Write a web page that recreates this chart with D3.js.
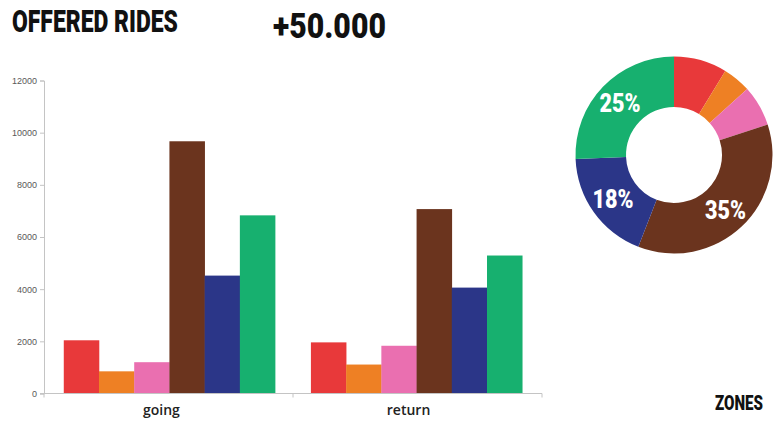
<!DOCTYPE html>
<html>
<head>
<meta charset="utf-8">
<script src="https://cdn.jsdelivr.net/npm/d3@7"></script>
<style>
  html, body { margin: 0; padding: 0; background: #ffffff; }
  svg { display: block; }
</style>
</head>
<body>
<svg id="chart" width="773" height="421"></svg>
<script>
// Ride counts per zone, for the outbound and return legs
const groups = ["going", "return"];
const zones = ["Zone 1", "Zone 2", "Zone 3", "Zone 4", "Zone 5", "Zone 6"];
const going = [2040, 850, 1200, 9670, 4520, 6830];
const returning = [1960, 1110, 1830, 7070, 4060, 5290];
const zoneColors = ["#e8393a", "#ee8024", "#ea6fb0", "#6b341e", "#2b3688", "#17b06f"];
const yTicks = [0, 2000, 4000, 6000, 8000, 10000, 12000];

// Share of rides per zone (percent) for the donut
const zoneShare = [8.5, 4.5, 6.5, 35, 18, 25];
const shareLabelShown = [false, false, false, true, true, true];

const svg = d3.select("#chart");
const condensed = "Roboto, 'Liberation Sans', sans-serif";

// Heavy condensed heading text: drawn at natural width, then squeezed horizontally
function heading(x, y, size, width, str) {
  const g = svg.append("g");
  const t = g.append("text")
    .attr("x", 0).attr("y", 0)
    .attr("font-family", condensed)
    .attr("font-weight", 900)
    .attr("font-size", size)
    .attr("fill", "#111")
    .text(str);
  const natural = t.node().getComputedTextLength();
  g.attr("transform", `translate(${x},${y}) scale(${width / natural},1)`);
  return g;
}
heading(12, 32, 31, 166, "OFFERED RIDES");
heading(273, 37.5, 34.5, 113, "+50.000");
heading(715, 409.5, 21, 48, "ZONES");

// ---- Grouped bar chart ----
const plot = { left: 44, right: 542, top: 80.5, bottom: 393.5 };

const x0 = d3.scaleBand()
  .domain(groups)
  .range([plot.left, plot.right])
  .paddingInner(0.145)
  .paddingOuter(0.08);

const x1 = d3.scaleBand()
  .domain(zones)
  .range([0, x0.bandwidth()]);

const y = d3.scaleLinear()
  .domain([0, 12000])
  .range([plot.bottom, plot.top]);

const table = groups.map((g, i) => ({
  group: g,
  values: (i === 0 ? going : returning).map((v, j) => ({ zone: zones[j], value: v, color: zoneColors[j] }))
}));

const bars = svg.append("g");
bars.selectAll("g")
  .data(table)
  .join("g")
  .attr("transform", d => `translate(${x0(d.group)},0)`)
  .selectAll("rect")
  .data(d => d.values)
  .join("rect")
  .attr("x", d => x1(d.zone))
  .attr("width", x1.bandwidth() + 0.3)
  .attr("y", d => y(d.value))
  .attr("height", d => y(0) - y(d.value))
  .attr("fill", d => d.color);

// Y axis
const yAxis = svg.append("g")
  .attr("transform", `translate(${plot.left},0)`)
  .call(d3.axisLeft(y).tickValues(yTicks).tickSize(4).tickPadding(3).tickFormat(d3.format("d")));
yAxis.select(".domain").attr("stroke", "#c4c4c4");
yAxis.selectAll(".tick line").attr("stroke", "#c4c4c4");
yAxis.selectAll(".tick text")
  .attr("font-family", "'Liberation Sans', Arial, sans-serif")
  .attr("font-size", 9)
  .attr("fill", "#595959");

// X axis: baseline with small ticks at the group boundaries
const xAxisG = svg.append("g").attr("transform", `translate(0,${plot.bottom})`);
xAxisG.append("line")
  .attr("x1", plot.left - 4).attr("x2", plot.right)
  .attr("stroke", "#c4c4c4");
const boundaries = [plot.left, (x0(groups[0]) + x0.bandwidth() + x0(groups[1])) / 2, plot.right];
xAxisG.selectAll("line.b")
  .data(boundaries)
  .join("line")
  .attr("class", "b")
  .attr("x1", d => d).attr("x2", d => d)
  .attr("y1", 0).attr("y2", 4)
  .attr("stroke", "#c4c4c4");
xAxisG.selectAll("text")
  .data(groups)
  .join("text")
  .attr("x", d => x0(d) + x0.bandwidth() / 2)
  .attr("dx", -8)
  .attr("y", 21.5)
  .attr("text-anchor", "middle")
  .attr("font-family", "'Open Sans', sans-serif")
  .attr("font-weight", 600)
  .attr("font-size", 14)
  .attr("fill", "#222")
  .text(d => d);

// ---- Donut of zone shares ----
const cx = 674, cy = 155, rOuter = 98.5, rInner = 48;
const pie = d3.pie().sort(null).value(d => d.share);
const arc = d3.arc().innerRadius(rInner).outerRadius(rOuter);
const labelArc = d3.arc().innerRadius(75).outerRadius(75);

const shareData = zoneShare.map((s, i) => ({ share: s, color: zoneColors[i], show: shareLabelShown[i] }));
const donut = svg.append("g").attr("transform", `translate(${cx},${cy})`);
const slices = pie(shareData);
donut.selectAll("path")
  .data(slices)
  .join("path")
  .attr("d", arc)
  .attr("fill", d => d.data.color);

donut.selectAll("text")
  .data(slices.filter(d => d.data.show))
  .join("text")
  .attr("transform", d => `translate(${labelArc.centroid(d)})`)
  .attr("dy", "0.36em")
  .attr("text-anchor", "middle")
  .attr("font-family", condensed)
  .attr("font-weight", 900)
  .attr("font-size", 26)
  .attr("fill", "#ffffff")
  .attr("textLength", 41)
  .attr("lengthAdjust", "spacingAndGlyphs")
  .text(d => d.data.share + "%");
</script>
</body>
</html>
